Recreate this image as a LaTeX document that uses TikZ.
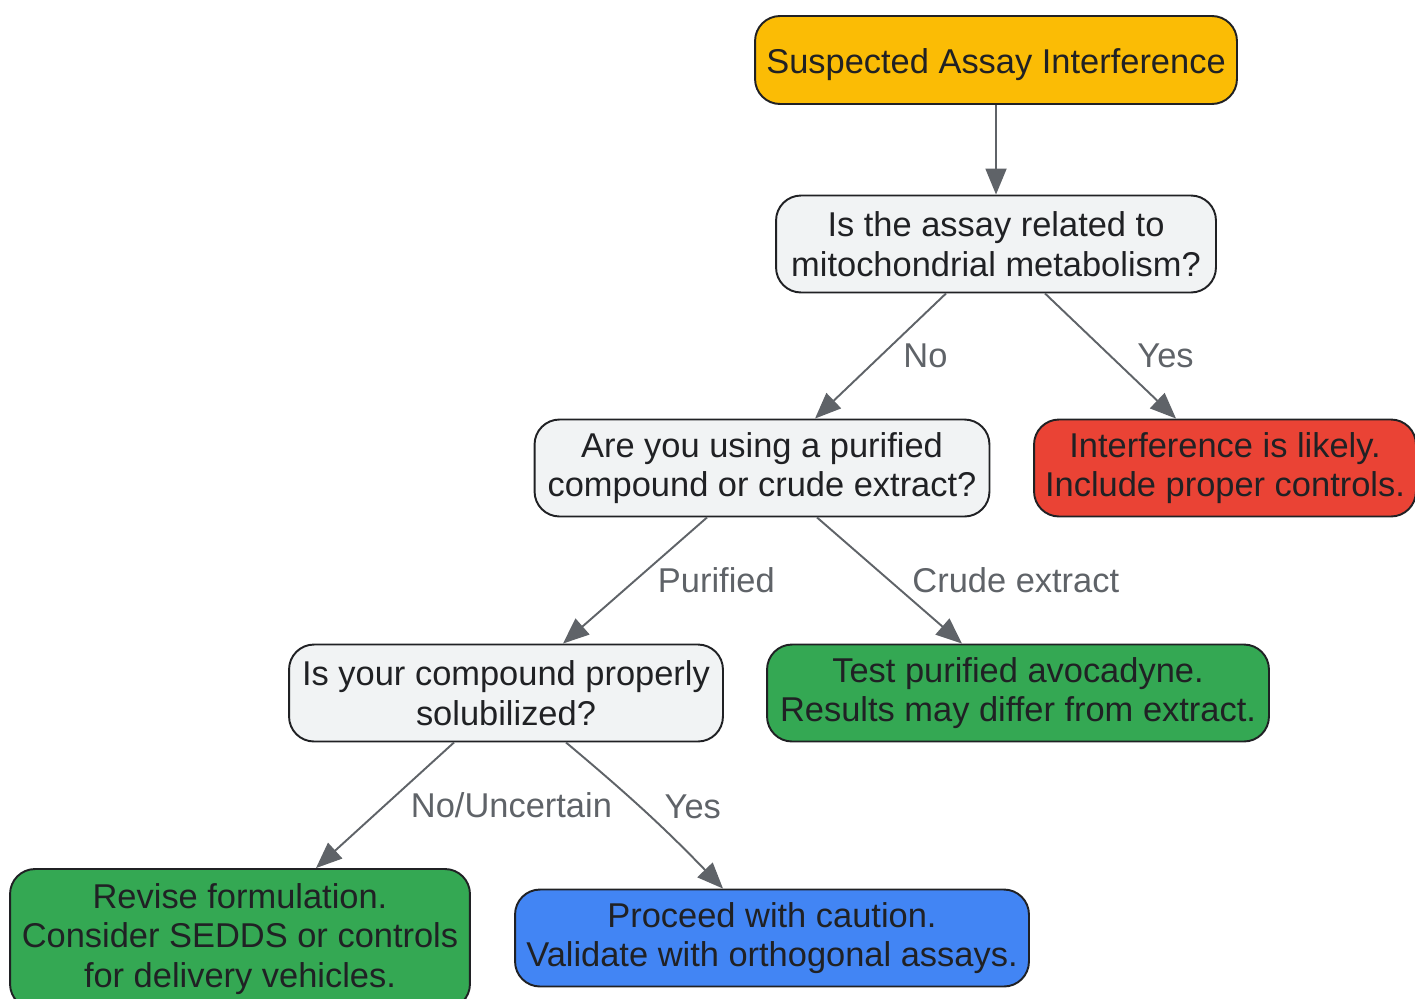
\documentclass[tikz,border=0pt]{standalone}
\usepackage{fontspec}
\setmainfont{Liberation Sans}
\usetikzlibrary{arrows.meta,calc}
\definecolor{cStart}{HTML}{FBBC05}
\definecolor{cAsk}{HTML}{F1F3F4}
\definecolor{cRed}{HTML}{EA4335}
\definecolor{cGreen}{HTML}{34A853}
\definecolor{cBlue}{HTML}{4285F4}
\definecolor{cInk}{HTML}{202124}
\definecolor{cEdge}{HTML}{5F6368}
\begin{document}
\begin{tikzpicture}[x=0.02cm,y=-0.02cm,line join=round,
        >={Triangle[length=0.52cm,width=0.42cm]},
        box/.style={draw=cInk,line width=1.1pt,rounded corners=0.5cm,align=center,
            text=cInk,inner sep=0pt,minimum height=1.94cm,
            font=\fontsize{19.6}{22.6}\selectfont},
        lbl/.style={midway,anchor=west,xshift=0.44cm,inner sep=0pt,text=cEdge,
            font=\fontsize{19.6}{22.6}\selectfont},
        link/.style={->,draw=cEdge,line width=1.1pt}]
    \useasboundingbox (0,0) rectangle (1415,998);
    % boxes
    \node[box,fill=cStart,minimum width=9.64cm,minimum height=1.76cm] (start) at (996,60) {\raisebox{-0.1cm}[\height][\depth]{Suspected Assay Interference}};
    \node[box,fill=cAsk,minimum width=8.8cm] (mito) at (996,244) {Is the assay related to\\mitochondrial metabolism?};
    \node[box,fill=cAsk,minimum width=9.1cm] (pure) at (762,468) {Are you using a purified\\compound or crude extract?};
    \node[box,fill=cRed,minimum width=7.64cm] (likely) at (1225,468) {Interference is likely.\\Include proper controls.};
    \node[box,fill=cAsk,minimum width=8.68cm] (solub) at (506,693) {Is your compound properly\\solubilized?};
    \node[box,fill=cGreen,minimum width=10.04cm] (crude) at (1018,693) {Test purified avocadyne.\\Results may differ from extract.};
    \node[box,fill=cGreen,minimum width=9.2cm,minimum height=2.8cm] (revise) at (240,939) {Revise formulation.\\Consider SEDDS or controls\\for delivery vehicles.};
    \node[box,fill=cBlue,minimum width=10.28cm] (proceed) at (772,938) {Proceed with caution.\\Validate with orthogonal assays.};
    % links
    \draw[link] (start) -- (mito);
    \draw[link] ($(mito.south)+(-50,0)$) -- ($(pure.north)+(53,0)$) node[lbl] {No};
    \draw[link] ($(mito.south)+(49,0)$) -- ($(likely.north)+(-49,0)$) node[lbl,xshift=0.08cm] {Yes};
    \draw[link] ($(pure.south)+(-55,0)$) -- ($(solub.north)+(57,0)$) node[lbl] {Purified};
    \draw[link] ($(pure.south)+(55,0)$) -- ($(crude.north)+(-56,0)$) node[lbl] {Crude extract};
    \draw[link] ($(solub.south)+(-52,0)$) -- ($(revise.north)+(76,0)$) node[lbl,xshift=0.06cm] {No/Uncertain};
    \draw[link] ($(solub.south)+(60,0)$) to[out=-40,in=134] node[lbl,xshift=-0.1cm,yshift=0.12cm] {Yes} ($(proceed.north)+(-49,0)$);
\end{tikzpicture}
\end{document}
